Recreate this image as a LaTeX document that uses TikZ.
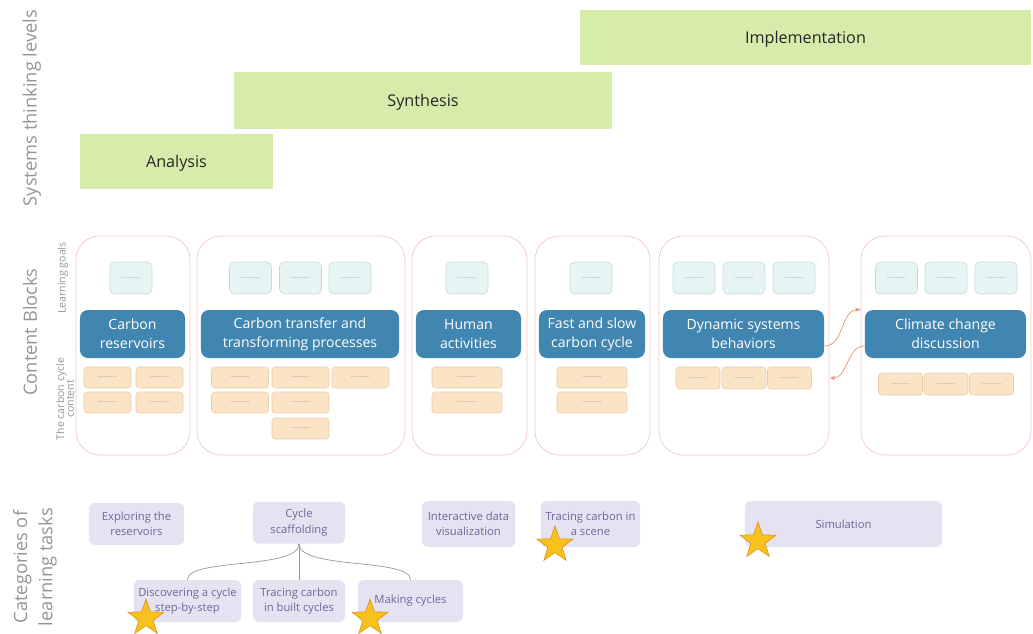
\documentclass[tikz,border=0pt]{standalone}
\usepackage{fontspec}
\setmainfont{Open Sans}
\usetikzlibrary{shapes.geometric,arrows.meta}

\definecolor{levelgreen}{HTML}{D7ECAB}
\definecolor{blockpink}{HTML}{F1C6CB}
\definecolor{titleblue}{HTML}{4185B1}
\definecolor{goalfill}{HTML}{E7F4F4}
\definecolor{goalline}{HTML}{C6D9D9}
\definecolor{contfill}{HTML}{FBE3C6}
\definecolor{contline}{HTML}{E9CFAE}
\definecolor{taskfill}{HTML}{E5E3F2}
\definecolor{tasktext}{HTML}{6C689A}
\definecolor{staryellow}{HTML}{F8C21C}
\definecolor{starline}{HTML}{E08A1E}
\definecolor{flowline}{HTML}{E8926A}
\definecolor{sidegray}{HTML}{959595}

\newcommand{\blankline}{\textcolor{gray}{\fontsize{4}{4}\selectfont .............}}

\begin{document}
\begin{tikzpicture}[x=0.025cm,y=-0.025cm,
  level/.style={fill=levelgreen, text=black!85, text depth=0pt, font=\fontsize{11.5}{14}\selectfont},
  block/.style={draw=blockpink, line width=0.5pt, rounded corners=0.6cm, minimum height=5.475cm},
  title/.style={fill=titleblue, text=white, rounded corners=0.2cm, align=center, minimum height=1.2cm, font=\fontsize{10}{13.5}\selectfont},
  goal/.style={draw=goalline, fill=goalfill, rounded corners=0.12cm, minimum width=1.05cm, minimum height=0.8cm, inner sep=0pt},
  cont/.style={draw=contline, fill=contfill, rounded corners=0.08cm, minimum height=0.525cm, inner sep=0pt},
  task/.style={fill=taskfill, text=tasktext, rounded corners=0.15cm, align=center, minimum height=1.05cm, font=\fontsize{8}{11}\selectfont},
  side/.style={rotate=90, text=sidegray, align=center, font=\fontsize{13}{18}\selectfont},
  sidesmall/.style={rotate=90, text=sidegray, align=center, font=\fontsize{7.5}{7}\selectfont},
  prize/.style={star, star points=5, star point ratio=2.5, fill=staryellow, draw=starline, line width=0.4pt, minimum size=0.95cm, inner sep=0pt},
  flow/.style={draw=flowline, line width=0.5pt, -{Stealth[length=4pt,width=3pt]}},
  branch/.style={draw=black!40, line width=0.5pt}]

\clip (0,0) rectangle (1033,633);
\useasboundingbox (0,0) rectangle (1033,633);

% side labels
\node[side] (lvl) at (32,108) {Systems thinking levels};
\node[side] (cb) at (30,332) {Content Blocks};
\node[sidesmall] (lg) at (63,278) {Learning goals};
\node[sidesmall] (cc) at (65,399) {The carbon cycle\\content};
\node[side] (cat) at (35,567) {Categories of\\learning tasks};

% systems thinking levels
\node[level, minimum width=11.275cm, minimum height=1.375cm] (imp) at (805.5,37.5) {Implementation};
\node[level, minimum width=9.45cm, minimum height=1.425cm] (syn) at (423,100.5) {Synthesis};
\node[level, minimum width=4.825cm, minimum height=1.375cm] (ana) at (176.5,161.5) {Analysis};

% content blocks
\node[block, minimum width=2.85cm] (b1) at (133,345.5) {};
\node[block, minimum width=5.2cm] (b2) at (301,345.5) {};
\node[block, minimum width=2.875cm] (b3) at (469.5,345.5) {};
\node[block, minimum width=2.875cm] (b4) at (592.5,345.5) {};
\node[block, minimum width=4.25cm] (b5) at (744,345.5) {};
\node[block, minimum width=4.25cm] (b6) at (946,345.5) {};

\node[title, minimum width=2.625cm] (t1) at (132.5,334) {Carbon\\reservoirs};
\node[title, minimum width=4.95cm] (t2) at (300,334) {Carbon transfer and\\transforming processes};
\node[title, minimum width=2.625cm] (t3) at (468.5,334) {Human\\activities};
\node[title, minimum width=2.65cm] (t4) at (592,334) {Fast and slow\\carbon cycle};
\node[title, minimum width=4.025cm] (t5) at (743.5,334) {Dynamic systems\\behaviors};
\node[title, minimum width=4.025cm] (t6) at (945.5,334) {Climate change\\discussion};

% learning goals
\foreach \n/\x in {g1/131, g2a/250.5, g2b/300.5, g2c/350, g3/467, g4/591,
                   g5a/694, g5b/744, g5c/794, g6a/896.5, g6b/946, g6c/996}
  \node[goal] (\n) at (\x,278) {\blankline};

% carbon cycle content
\foreach \n/\x/\y in {c1a/107.5/377.5, c1b/159.5/377.5, c1c/107.5/402.5, c1d/159.5/402.5}
  \node[cont, minimum width=1.175cm] (\n) at (\x,\y) {\blankline};
\foreach \n/\x/\y in {c2a/240/377.5, c2b/300.5/377.5, c2c/360.5/377.5,
                      c2d/240/402.5, c2e/300.5/402.5, c2f/300.5/428.5}
  \node[cont, minimum width=1.425cm] (\n) at (\x,\y) {\blankline};
\foreach \n/\x/\y in {c3a/467/377.5, c3b/467/402.5, c4a/592/377.5, c4b/592/402.5}
  \node[cont, minimum width=1.75cm] (\n) at (\x,\y) {\blankline};
\foreach \n/\x in {c5a/698, c5b/744, c5c/789.5}
  \node[cont, minimum width=1.1cm, minimum height=0.55cm] (\n) at (\x,378) {\blankline};
\foreach \n/\x in {c6a/900.5, c6b/946, c6c/991.5}
  \node[cont, minimum width=1.1cm, minimum height=0.55cm] (\n) at (\x,384) {\blankline};

% links between the last two blocks
\draw[flow] ([yshift=-0.3cm]t5.east) to[out=0,in=180] ([xshift=-0.1cm]t6.north west);
\draw[flow] ([yshift=-0.3cm]t6.west) to[out=180,in=0] ([xshift=0.45cm]c5c.east);

% learning tasks
\node[task, minimum width=2.375cm] (explore) at (136.5,524) {Exploring the\\reservoirs};
\node[task, minimum width=2.3cm] (cyc) at (299,522.5) {Cycle\\scaffolding};
\node[task, minimum width=2.325cm, minimum height=1.15cm] (inter) at (468.5,524) {Interactive data\\visualization};
\node[task, minimum width=2.375cm, minimum height=1.15cm] (scene) at (590.5,524) {Tracing carbon in\\a scene};
\node[task, minimum width=4.925cm, minimum height=1.15cm] (sim) at (843.5,524) {Simulation};
\node[task, minimum width=2.625cm] (disc) at (187.5,601) {Discovering a cycle\\step-by-step};
\node[task, minimum width=2.3cm] (built) at (299,601) {Tracing carbon\\in built cycles};
\node[task, minimum width=2.625cm] (making) at (410.5,601) {Making cycles};

\draw[branch] (cyc.south) .. controls +(0,26) and +(0,-22) .. (disc.north);
\draw[branch] (cyc.south) -- (built.north);
\draw[branch] (cyc.south) .. controls +(0,26) and +(0,-22) .. (making.north);

% stars
\node[prize] (s1) at (146,618) {};
\node[prize] (s2) at (370,618) {};
\node[prize] (s3) at (555,545) {};
\node[prize] (s4) at (758,541) {};
\end{tikzpicture}
\end{document}
